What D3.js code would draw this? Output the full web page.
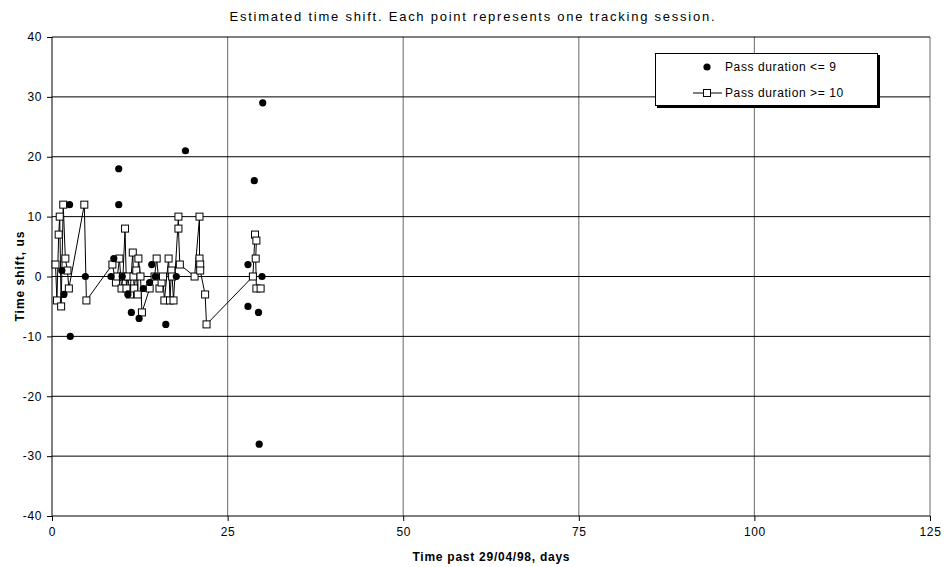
<!DOCTYPE html>
<html>
<head>
<meta charset="utf-8">
<script src="https://cdn.jsdelivr.net/npm/d3@7"></script>
<style>
  body { margin: 0; background: #fff; }
  text { font-family: "Liberation Sans", Arial, sans-serif; fill: #000; }
</style>
</head>
<body>
<div class="chart"></div>
<script>
// Data
var shortPasses = [
  [1.4, 1], [1.7, -3], [2.5, 12], [2.6, -10], [4.75, 0],
  [8.4, 0], [8.8, 3], [9.5, 18], [9.5, 12], [10.0, 0],
  [10.8, -3], [11.3, -6], [12.4, -7], [13.0, -2], [13.9, -1],
  [14.2, 2], [14.7, 0], [16.2, -8], [17.7, 0], [19.0, 21],
  [27.9, 2], [27.9, -5], [28.8, 16], [29.9, 0], [29.4, -6],
  [29.5, -28], [30.0, 29]
];

var longPasses = [
  [0.5, 2], [0.7, -4], [0.95, 7], [1.1, 10], [1.3, -5], [1.6, 12],
  [1.9, 3], [2.2, 1], [2.4, -2], [4.6, 12], [4.9, -4],
  [8.6, 2], [9.1, -1], [9.3, 0], [9.6, 3], [9.9, -2], [10.1, 0],
  [10.4, 8], [10.6, -2], [10.8, 0], [11.1, -3], [11.5, 4], [11.6, 0],
  [11.7, -2], [12.0, 1], [12.2, -3], [12.3, 3], [12.6, 0], [12.8, -6],
  [13.9, -2], [14.6, 0], [14.9, 3], [15.3, -2], [15.6, -1], [15.8, 0],
  [16.0, -4], [16.6, 3], [16.8, -4], [17.0, 1], [17.1, 0], [17.3, -4],
  [18.0, 10], [18.0, 8], [18.2, 2], [20.3, 0], [21.0, 10], [21.0, 3],
  [21.1, 2], [21.1, 1], [21.8, -3], [22.0, -8],
  [28.6, 0], [28.9, 7], [29.1, 6], [29.0, 3], [29.1, -2], [29.7, -2]
];

var xTicks = [0, 25, 50, 75, 100, 125];
var yTicks = [-40, -30, -20, -10, 0, 10, 20, 30, 40];
var legendLabels = ["Pass duration <= 9", "Pass duration >= 10"];

var svgWidth = 944;
var svgHeight = 567;

var svg = d3.select(".chart")
  .append("svg")
  .attr("width", svgWidth)
  .attr("height", svgHeight);

var x = d3.scaleLinear().domain([0, 125]).range([52, 930]);
var y = d3.scaleLinear().domain([-40, 40]).range([516, 37]);

// vertical gridlines (grey)
svg.append("g")
  .selectAll("line")
  .data(xTicks.slice(1))
  .enter().append("line")
  .attr("x1", d => x(d)).attr("x2", d => x(d))
  .attr("y1", y(40)).attr("y2", y(-40))
  .attr("stroke", "#808080")
  .attr("stroke-width", 1.2);

// horizontal gridlines (black)
svg.append("g")
  .selectAll("line")
  .data(yTicks.slice(1))
  .enter().append("line")
  .attr("x1", x(0)).attr("x2", x(125))
  .attr("y1", d => y(d)).attr("y2", d => y(d))
  .attr("stroke", "#000")
  .attr("stroke-width", 1);

// axes
var bottomAxis = d3.axisBottom(x).tickValues(xTicks).tickSize(5).tickPadding(6).tickFormat(d => String(d));
var leftAxis = d3.axisLeft(y).tickValues(yTicks).tickSize(5).tickPadding(5).tickFormat(d => String(d));

var gx = svg.append("g")
  .attr("transform", `translate(0, ${y(-40)})`)
  .call(bottomAxis);
var gy = svg.append("g")
  .attr("transform", `translate(${x(0)}, 0)`)
  .call(leftAxis);

[gx, gy].forEach(function(g) {
  g.select(".domain").attr("stroke", "#000").attr("d", null);
  g.selectAll(".tick line").attr("stroke", "#000");
  g.selectAll(".tick text").attr("font-size", 12).attr("fill", "#000")
    .attr("letter-spacing", 0.6)
    .attr("font-family", "Liberation Sans, Arial, sans-serif");
});
// axis lines
svg.append("line").attr("x1", x(0)).attr("x2", x(125))
  .attr("y1", y(-40)).attr("y2", y(-40)).attr("stroke", "#000");
svg.append("line").attr("x1", x(0)).attr("x2", x(0))
  .attr("y1", y(40)).attr("y2", y(-40)).attr("stroke", "#000");

// long passes: line + open squares
var line = d3.line().x(d => x(d[0])).y(d => y(d[1]));
svg.append("path")
  .datum(longPasses)
  .attr("d", line)
  .attr("fill", "none")
  .attr("stroke", "#000")
  .attr("stroke-width", 1);

svg.append("g")
  .selectAll("rect")
  .data(longPasses)
  .enter().append("rect")
  .attr("x", d => x(d[0]) - 3.5)
  .attr("y", d => y(d[1]) - 3.5)
  .attr("width", 7).attr("height", 7)
  .attr("fill", "#fff")
  .attr("stroke", "#000")
  .attr("stroke-width", 1);

// short passes: filled dots
svg.append("g")
  .selectAll("circle")
  .data(shortPasses)
  .enter().append("circle")
  .attr("cx", d => x(d[0]))
  .attr("cy", d => y(d[1]))
  .attr("r", 3.6)
  .attr("fill", "#000");

// title
svg.append("text")
  .attr("x", 472).attr("y", 21)
  .attr("text-anchor", "middle")
  .attr("font-size", 13)
  .attr("textLength", 485)
  .attr("lengthAdjust", "spacing")
  .text("Estimated time shift. Each point represents one tracking session.");

// axis titles
svg.append("text")
  .attr("x", (x(0) + x(125)) / 2).attr("y", 561)
  .attr("text-anchor", "middle")
  .attr("font-size", 12)
  .attr("font-weight", "bold")
  .attr("textLength", 157)
  .attr("lengthAdjust", "spacing")
  .text("Time past 29/04/98, days");

svg.append("text")
  .attr("transform", `translate(24, ${y(0)}) rotate(-90)`)
  .attr("text-anchor", "middle")
  .attr("font-size", 12)
  .attr("font-weight", "bold")
  .attr("textLength", 90)
  .attr("lengthAdjust", "spacing")
  .text("Time shift, us");

// legend
var legend = svg.append("g");
legend.append("rect")
  .attr("x", 657).attr("y", 55).attr("width", 223).attr("height", 53)
  .attr("fill", "#000");
legend.append("rect")
  .attr("x", 655.5).attr("y", 53.5).attr("width", 222).attr("height", 52)
  .attr("fill", "#fff").attr("stroke", "#000");

legend.append("circle").attr("cx", 707).attr("cy", 67).attr("r", 3.6).attr("fill", "#000");
legend.append("line").attr("x1", 693).attr("x2", 722).attr("y1", 93).attr("y2", 93).attr("stroke", "#000");
legend.append("rect").attr("x", 703.5).attr("y", 89.5).attr("width", 7).attr("height", 7)
  .attr("fill", "#fff").attr("stroke", "#000");

legend.selectAll("text.lab")
  .data(legendLabels)
  .enter().append("text")
  .attr("class", "lab")
  .attr("x", 725)
  .attr("y", (d, i) => 71 + i * 26)
  .attr("font-size", 12)
  .attr("letter-spacing", 0.6)
  .text(d => d);
</script>
</body>
</html>
